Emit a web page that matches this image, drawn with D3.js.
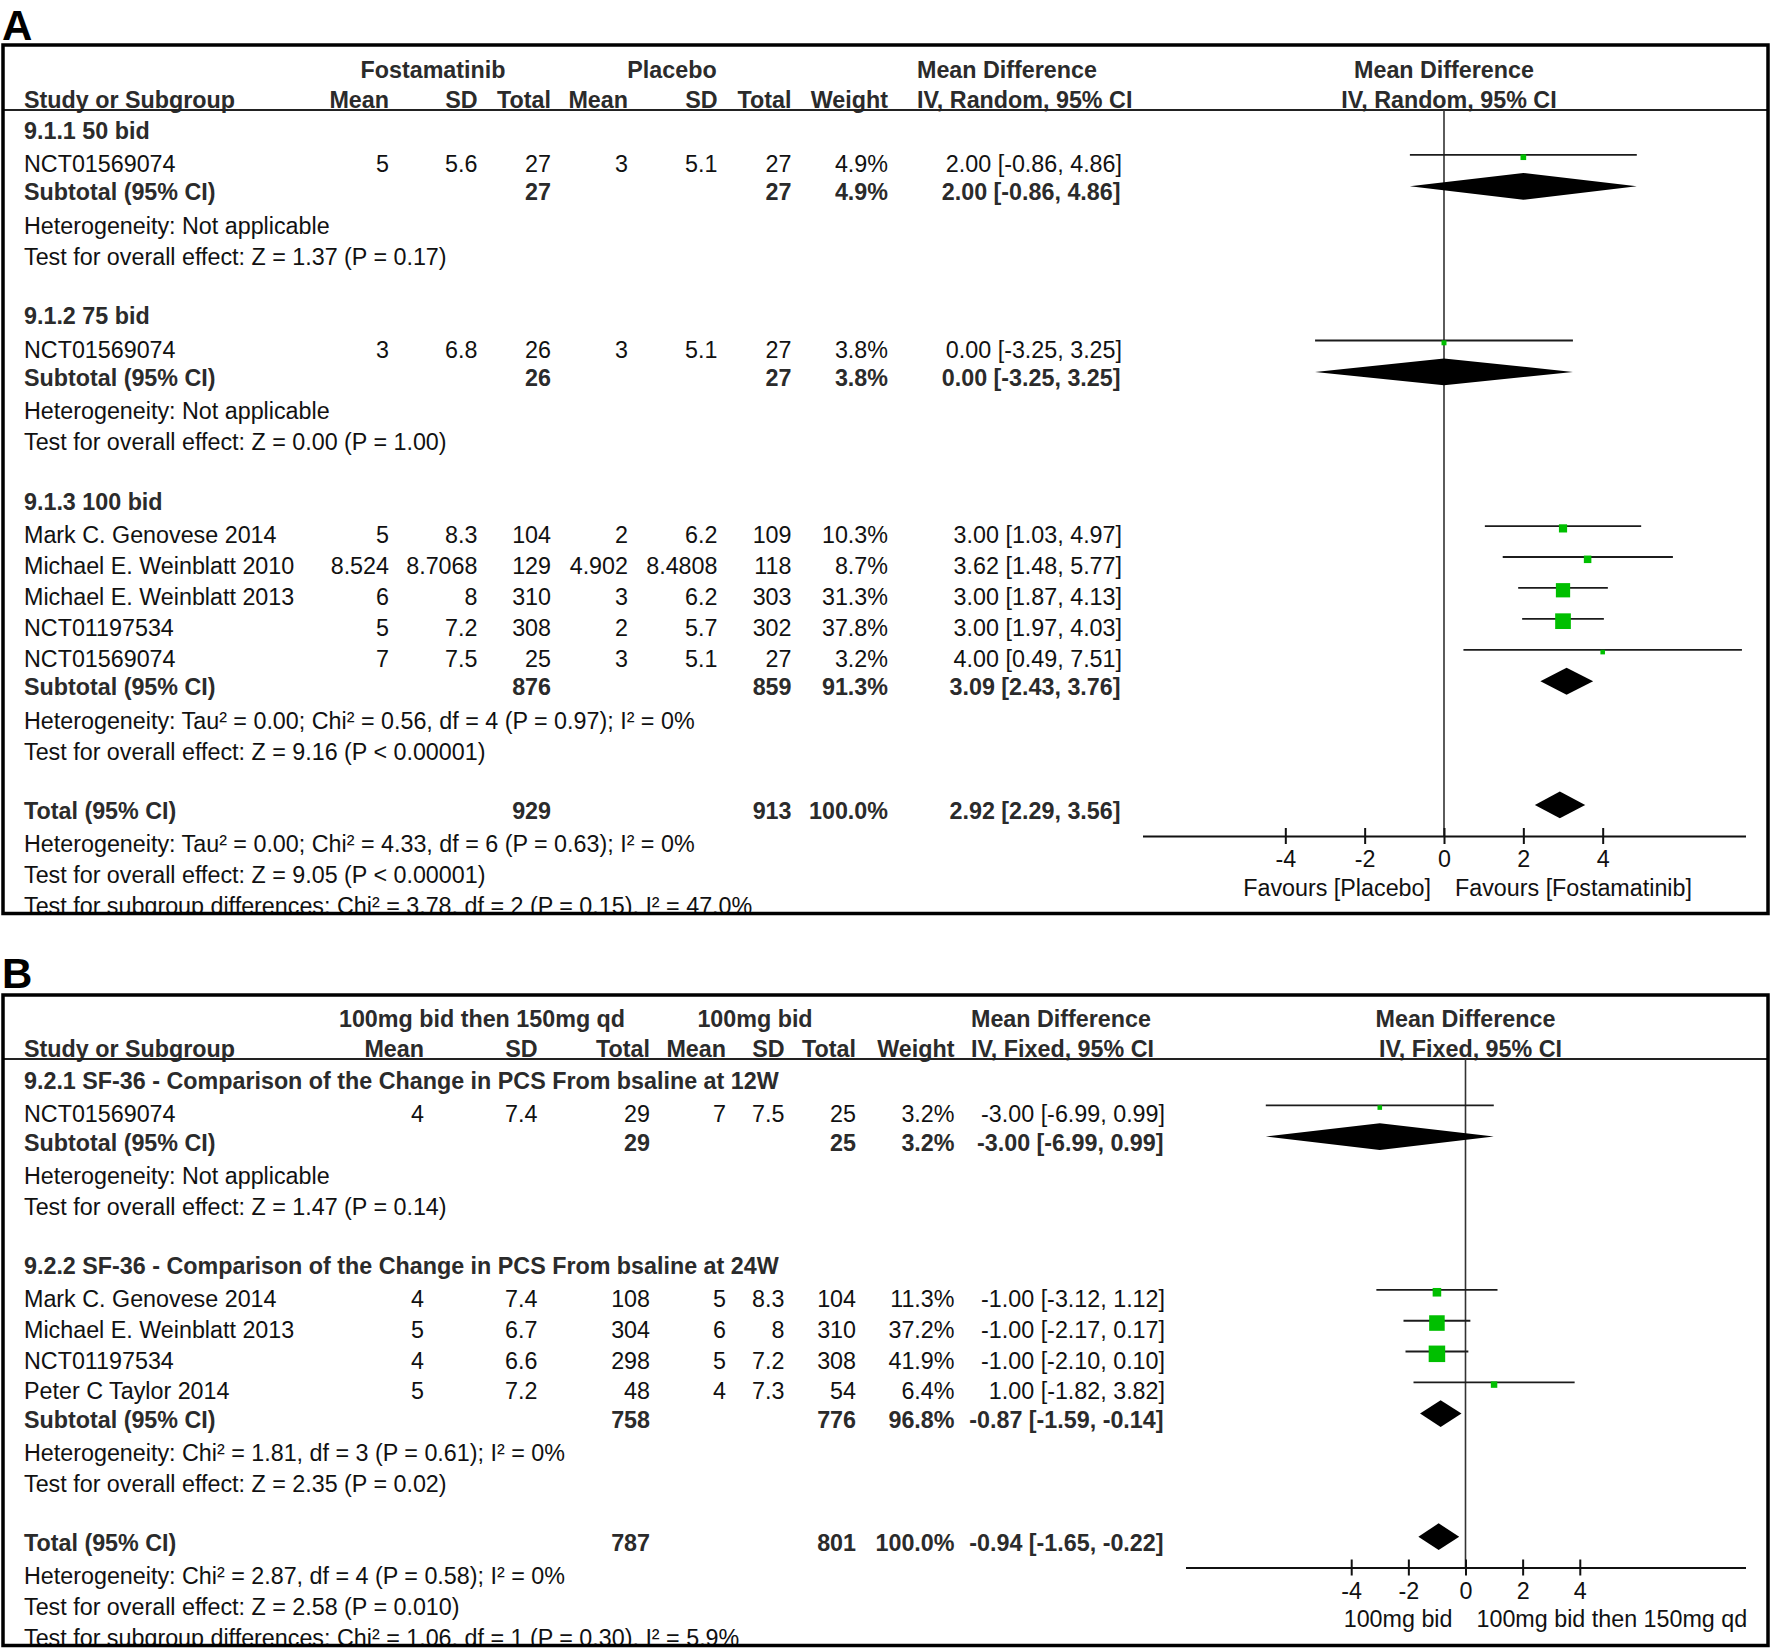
<!DOCTYPE html>
<html>
<head>
<meta charset="utf-8">
<script src="https://cdn.jsdelivr.net/npm/d3@7"></script>
<style>
  body { margin: 0; background: #fff; }
  svg text { font-family: "Liberation Sans", Arial, sans-serif; font-size: 23.3px; fill: #111; }
  svg text.b { font-weight: bold; fill: #2b2b2b; }
  svg text.letter { font-size: 42px; font-weight: bold; fill: #000; }
</style>
</head>
<body>
<script>
// ---------- panel A : Fostamatinib vs Placebo (random effects) ----------
const groupNamesA = ["9.1.1 50 bid", "9.1.2 75 bid", "9.1.3 100 bid"];
const studyGroupA = [0, 1, 2, 2, 2, 2, 2];
const studyNamesA = ["NCT01569074", "NCT01569074", "Mark C. Genovese 2014", "Michael E. Weinblatt 2010",
  "Michael E. Weinblatt 2013", "NCT01197534", "NCT01569074"];
const expMeanA = [5, 3, 5, 8.524, 6, 5, 7];
const expSdA = [5.6, 6.8, 8.3, 8.7068, 8, 7.2, 7.5];
const expNA = [27, 26, 104, 129, 310, 308, 25];
const ctlMeanA = [3, 3, 2, 4.902, 3, 2, 3];
const ctlSdA = [5.1, 5.1, 6.2, 8.4808, 6.2, 5.7, 5.1];
const ctlNA = [27, 27, 109, 118, 303, 302, 27];
const weightA = [4.9, 3.8, 10.3, 8.7, 31.3, 37.8, 3.2];
const mdA = [2.00, 0.00, 3.00, 3.62, 3.00, 3.00, 4.00];
const loA = [-0.86, -3.25, 1.03, 1.48, 1.87, 1.97, 0.49];
const hiA = [4.86, 3.25, 4.97, 5.77, 4.13, 4.03, 7.51];
// subtotals, last entry = overall total
const sumExpNA = [27, 26, 876, 929];
const sumCtlNA = [27, 27, 859, 913];
const sumWeightA = [4.9, 3.8, 91.3, 100.0];
const sumMdA = [2.00, 0.00, 3.09, 2.92];
const sumLoA = [-0.86, -3.25, 2.43, 2.29];
const sumHiA = [4.86, 3.25, 3.76, 3.56];
const hetA = ["Heterogeneity: Not applicable", "Heterogeneity: Not applicable",
  "Heterogeneity: Tau² = 0.00; Chi² = 0.56, df = 4 (P = 0.97); I² = 0%",
  "Heterogeneity: Tau² = 0.00; Chi² = 4.33, df = 6 (P = 0.63); I² = 0%"];
const effectA = ["Test for overall effect: Z = 1.37 (P = 0.17)", "Test for overall effect: Z = 0.00 (P = 1.00)",
  "Test for overall effect: Z = 9.16 (P < 0.00001)", "Test for overall effect: Z = 9.05 (P < 0.00001)"];
const subgroupTestA = "Test for subgroup differences: Chi² = 3.78, df = 2 (P = 0.15), I² = 47.0%";
const armsA = ["Fostamatinib", "Placebo"];
const methodA = "IV, Random, 95% CI";
const ticksA = [-4, -2, 0, 2, 4];
const favoursA = ["Favours [Placebo]", "Favours [Fostamatinib]"];

// ---------- panel B : 100mg bid then 150mg qd vs 100mg bid (fixed effect) ----------
const groupNamesB = ["9.2.1 SF-36 - Comparison of the Change in PCS From bsaline at 12W",
  "9.2.2 SF-36 - Comparison of the Change in PCS From bsaline at 24W"];
const studyGroupB = [0, 1, 1, 1, 1];
const studyNamesB = ["NCT01569074", "Mark C. Genovese 2014", "Michael E. Weinblatt 2013", "NCT01197534", "Peter C Taylor 2014"];
const expMeanB = [4, 4, 5, 4, 5];
const expSdB = [7.4, 7.4, 6.7, 6.6, 7.2];
const expNB = [29, 108, 304, 298, 48];
const ctlMeanB = [7, 5, 6, 5, 4];
const ctlSdB = [7.5, 8.3, 8, 7.2, 7.3];
const ctlNB = [25, 104, 310, 308, 54];
const weightB = [3.2, 11.3, 37.2, 41.9, 6.4];
const mdB = [-3.00, -1.00, -1.00, -1.00, 1.00];
const loB = [-6.99, -3.12, -2.17, -2.10, -1.82];
const hiB = [0.99, 1.12, 0.17, 0.10, 3.82];
const sumExpNB = [29, 758, 787];
const sumCtlNB = [25, 776, 801];
const sumWeightB = [3.2, 96.8, 100.0];
const sumMdB = [-3.00, -0.87, -0.94];
const sumLoB = [-6.99, -1.59, -1.65];
const sumHiB = [0.99, -0.14, -0.22];
const hetB = ["Heterogeneity: Not applicable", "Heterogeneity: Chi² = 1.81, df = 3 (P = 0.61); I² = 0%",
  "Heterogeneity: Chi² = 2.87, df = 4 (P = 0.58); I² = 0%"];
const effectB = ["Test for overall effect: Z = 1.47 (P = 0.14)", "Test for overall effect: Z = 2.35 (P = 0.02)",
  "Test for overall effect: Z = 2.58 (P = 0.010)"];
const subgroupTestB = "Test for subgroup differences: Chi² = 1.06, df = 1 (P = 0.30), I² = 5.9%";
const armsB = ["100mg bid then 150mg qd", "100mg bid"];
const methodB = "IV, Fixed, 95% CI";
const ticksB = [-4, -2, 0, 2, 4];
const favoursB = ["100mg bid", "100mg bid then 150mg qd"];

const svg = d3.select("body").append("svg")
  .attr("width", 1772)
  .attr("height", 1650);

const panelA = {
  letter: "A", letterY: 40, top: 45, bottom: 913.5, headY: 110, slot0: 138.5, unit: 30.93,
  domain: [-7.6, 7.6], range: [1142.5, 1745.5], axisY: 836,
  cols: [389, 477.5, 551, 628, 717.5, 791.5, 888], armX: [433, 672], ciRight: 1122, ciHeadX: 917,
  groups: groupNamesA, group: studyGroupA, names: studyNamesA,
  em: expMeanA, esd: expSdA, en: expNA, cm: ctlMeanA, csd: ctlSdA, cn: ctlNA,
  w: weightA, md: mdA, lo: loA, hi: hiA,
  sen: sumExpNA, scn: sumCtlNA, sw: sumWeightA, smd: sumMdA, slo: sumLoA, shi: sumHiA,
  het: hetA, effect: effectA, subgroupTest: subgroupTestA, arms: armsA, method: methodA,
  ticks: ticksA, favours: favoursA
};

const panelB = {
  letter: "B", letterY: 988, top: 995, bottom: 1645.5, headY: 1059, slot0: 1089, unit: 30.78,
  domain: [-9.8, 9.8], range: [1185.5, 1745.5], axisY: 1567.5,
  cols: [424, 537.5, 650, 726, 784.5, 856, 954.5], armX: [482, 755], ciRight: 1165, ciHeadX: 971,
  groups: groupNamesB, group: studyGroupB, names: studyNamesB,
  em: expMeanB, esd: expSdB, en: expNB, cm: ctlMeanB, csd: ctlSdB, cn: ctlNB,
  w: weightB, md: mdB, lo: loB, hi: hiB,
  sen: sumExpNB, scn: sumCtlNB, sw: sumWeightB, smd: sumMdB, slo: sumLoB, shi: sumHiB,
  het: hetB, effect: effectB, subgroupTest: subgroupTestB, arms: armsB, method: methodB,
  ticks: ticksB, favours: favoursB
};

const ci = (m, l, h) => `${m.toFixed(2)} [${l.toFixed(2)}, ${h.toFixed(2)}]`;
const pct = v => v.toFixed(1) + "%";

function buildRows(p) {
  const rows = [];
  let slot = 0;
  p.groups.forEach((name, gi) => {
    rows.push({ slot: slot++, kind: "group", label: name });
    p.names.forEach((n, i) => {
      if (p.group[i] === gi) rows.push({ slot: slot++, kind: "study", i: i });
    });
    rows.push({ slot: slot++, kind: "sum", i: gi, label: "Subtotal (95% CI)" });
    rows.push({ slot: slot++, kind: "note", label: p.het[gi] });
    rows.push({ slot: slot++, kind: "note", label: p.effect[gi] });
    slot++;
  });
  const t = p.groups.length;
  rows.push({ slot: slot++, kind: "sum", i: t, label: "Total (95% CI)" });
  rows.push({ slot: slot++, kind: "note", label: p.het[t] });
  rows.push({ slot: slot++, kind: "note", label: p.effect[t] });
  rows.push({ slot: slot++, kind: "note", label: p.subgroupTest });
  return rows;
}

function txt(g, x, y, s, anchor, bold) {
  return g.append("text")
    .attr("x", x)
    .attr("y", y)
    .attr("text-anchor", anchor || "start")
    .attr("class", bold ? "b" : null)
    .text(s);
}

function drawPanel(p) {
  const x = d3.scaleLinear().domain(p.domain).range(p.range);
  const size = d3.scaleSqrt().domain([0, 100]).range([0, 25.5]);
  const y = slot => p.slot0 + slot * p.unit;
  const rows = buildRows(p);

  svg.append("text").attr("class", "letter").attr("x", 2).attr("y", p.letterY).text(p.letter);

  svg.append("clipPath").attr("id", "clip" + p.letter)
    .append("rect")
    .attr("x", 3).attr("y", p.top)
    .attr("width", 1765).attr("height", p.bottom - p.top);

  const g = svg.append("g").attr("clip-path", `url(#clip${p.letter})`);

  // header
  const h1 = p.headY - 32, h2 = p.headY - 2;
  txt(g, p.armX[0], h1, p.arms[0], "middle", true);
  txt(g, p.armX[1], h1, p.arms[1], "middle", true);
  txt(g, p.ciHeadX, h1, "Mean Difference", "start", true);
  txt(g, x(0), h1, "Mean Difference", "middle", true);
  txt(g, 24, h2, "Study or Subgroup", "start", true);
  ["Mean", "SD", "Total", "Mean", "SD", "Total", "Weight"].forEach((s, k) => txt(g, p.cols[k], h2, s, "end", true));
  txt(g, p.ciHeadX, h2, p.method, "start", true);
  txt(g, x(0) + 5, h2, p.method, "middle", true);

  g.append("line")
    .attr("x1", 3).attr("x2", 1768)
    .attr("y1", p.headY).attr("y2", p.headY)
    .attr("stroke", "#222").attr("stroke-width", 2);

  // zero line
  g.append("line")
    .attr("x1", x(0)).attr("x2", x(0))
    .attr("y1", p.headY).attr("y2", p.axisY)
    .attr("stroke", "#333").attr("stroke-width", 1.6);

  rows.forEach(r => {
    const yb = y(r.slot);
    if (r.kind === "group") {
      txt(g, 24, yb, r.label, "start", true);
    } else if (r.kind === "note") {
      txt(g, 24, yb + 2.5, r.label, "start", false);
    } else if (r.kind === "study") {
      const i = r.i, yt = yb + 2.5;
      txt(g, 24, yt, p.names[i]);
      [p.em[i], p.esd[i], p.en[i], p.cm[i], p.csd[i], p.cn[i]].forEach((v, k) => txt(g, p.cols[k], yt, String(v), "end"));
      txt(g, p.cols[6], yt, pct(p.w[i]), "end");
      txt(g, p.ciRight, yt, ci(p.md[i], p.lo[i], p.hi[i]), "end");
      g.append("line")
        .attr("x1", x(p.lo[i])).attr("x2", x(p.hi[i]))
        .attr("y1", yb - 14.5).attr("y2", yb - 14.5)
        .attr("stroke", "#1c1c1c").attr("stroke-width", 1.8);
      const s = size(p.w[i]);
      g.append("rect")
        .attr("x", x(p.md[i]) - s / 2).attr("y", yb - 12.2 - s / 2)
        .attr("width", s).attr("height", s)
        .attr("fill", "#00bf00");
    } else if (r.kind === "sum") {
      const i = r.i;
      txt(g, 24, yb, r.label, "start", true);
      txt(g, p.cols[2], yb, String(p.sen[i]), "end", true);
      txt(g, p.cols[5], yb, String(p.scn[i]), "end", true);
      txt(g, p.cols[6], yb, pct(p.sw[i]), "end", true);
      txt(g, p.ciRight - 1.5, yb, ci(p.smd[i], p.slo[i], p.shi[i]), "end", true);
      const cy = yb - 14, hh = 13.4;
      g.append("path")
        .attr("d", `M${x(p.slo[i])},${cy}L${x(p.smd[i])},${cy - hh}L${x(p.shi[i])},${cy}L${x(p.smd[i])},${cy + hh}Z`)
        .attr("fill", "#000");
    }
  });

  // axis
  const ag = g.append("g")
    .attr("transform", `translate(0,${p.axisY})`)
    .call(d3.axisBottom(x).tickValues(p.ticks).tickFormat(d => String(d))
      .tickSizeOuter(0).tickSizeInner(8).tickPadding(0));
  ag.attr("font-size", null).attr("font-family", null);
  ag.select(".domain").attr("stroke", "#111").attr("stroke-width", 2);
  ag.selectAll(".tick line").attr("y1", -8).attr("y2", 8).attr("stroke", "#111").attr("stroke-width", 2);
  ag.selectAll(".tick text").attr("y", 31).attr("dy", null);

  txt(g, x(0) - 13, p.axisY + 59.5, p.favours[0], "end");
  txt(g, x(0) + 11, p.axisY + 59.5, p.favours[1], "start");

  // frame
  svg.append("rect")
    .attr("x", 3).attr("y", p.top)
    .attr("width", 1765).attr("height", p.bottom - p.top)
    .attr("fill", "none").attr("stroke", "#000").attr("stroke-width", 3.5);
}

drawPanel(panelA);
drawPanel(panelB);
</script>
</body>
</html>
